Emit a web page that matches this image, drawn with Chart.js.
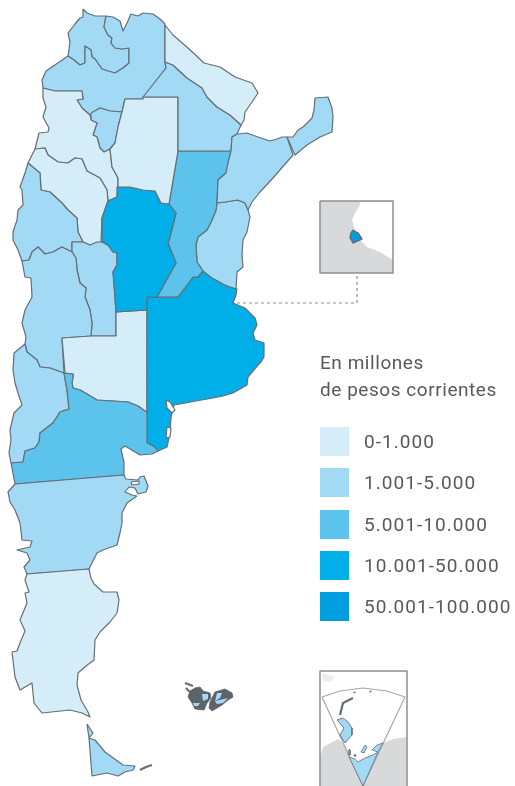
<!DOCTYPE html>
<html>
<head>
<meta charset="utf-8">
<script src="https://cdn.jsdelivr.net/npm/chart.js@4"></script>
<style>
    body { margin: 0; background: #fff; }
    #wrap { position: relative; width: 515px; height: 786px; overflow: hidden; font-family: Roboto, sans-serif; color: #58595b; }
    #wrap canvas { position: absolute; left: 0; top: 0; }
    .legend-title { position: absolute; left: 320px; top: 349px; font-size: 19px; line-height: 27px; letter-spacing: .55px; }
    .legend-row { position: absolute; left: 320px; width: 195px; height: 29px; font-size: 19px; line-height: 29px; letter-spacing: 1.05px; white-space: nowrap; }
    .legend-row i { position: absolute; left: 0; top: 0; width: 29px; height: 29px; }
    .legend-row span { position: absolute; left: 44px; top: 0; }
</style>
</head>
<body>
<div id="wrap">
    <canvas id="map" width="515" height="786"></canvas>
    <div class="legend-title">En millones<br>de pesos corrientes</div>
    <div id="legend"></div>
</div>
<script>
// classes
const classLabels = ['0-1.000', '1.001-5.000', '5.001-10.000', '10.001-50.000', '50.001-100.000'];
const classColors = ['#d5edf9', '#a2d9f5', '#5cc3ed', '#00aee8', '#009edf'];
const legendTops = [427, 468, 510, 551, 592];

// outlines, picture units
const jujuy = [[83,9],[87,13],[95,16],[106,16],[104,27],[108,35],[112,38],[111,43],[115,48],[122,49],[129,48],[129,63],[123,68],[115,73],[108,71],[102,69],[95,59],[92,57],[91,50],[85,46],[85,63],[80,65],[74,60],[68,56],[70,42],[68,33],[75,24],[80,18],[83,17]];
const salta = [[106,16],[113,17],[120,21],[123,31],[127,23],[131,14],[138,16],[143,13],[153,14],[160,19],[165,24],[165,62],[166,68],[143,99],[125,99],[122,112],[110,111],[100,108],[90,115],[82,108],[77,100],[83,99],[82,91],[55,91],[43,88],[42,80],[46,71],[68,56],[74,60],[80,65],[85,63],[85,46],[91,50],[92,57],[95,59],[102,69],[108,71],[115,73],[123,68],[129,63],[129,48],[122,49],[115,48],[111,43],[112,38],[108,35],[104,27]];
const tucuman = [[91,113],[100,108],[110,111],[122,112],[118,127],[115,143],[110,149],[104,152],[100,148],[97,137],[93,135],[97,123],[91,120]];
const catamarca = [[43,88],[55,91],[82,91],[83,99],[77,100],[82,108],[90,115],[91,120],[97,123],[93,135],[97,137],[100,148],[104,152],[110,149],[112,167],[118,178],[118,187],[117,197],[108,201],[107,190],[100,178],[87,171],[82,159],[75,158],[68,163],[58,162],[48,155],[45,148],[35,149],[39,133],[48,132],[49,128],[43,117],[46,107],[43,98]];
const laRioja = [[35,149],[45,148],[48,155],[58,162],[68,163],[75,158],[82,159],[87,171],[100,178],[107,190],[108,201],[102,218],[101,242],[90,245],[83,242],[78,232],[77,218],[68,210],[62,203],[50,192],[41,190],[40,173],[28,163]];
const sanJuan = [[28,163],[40,173],[41,190],[50,192],[62,203],[68,210],[77,218],[78,232],[83,242],[72,242],[72,252],[62,247],[53,252],[45,254],[38,247],[32,252],[29,260],[22,261],[18,250],[13,240],[13,232],[17,220],[18,210],[23,205],[22,190],[20,187],[25,173]];
const sanLuis = [[72,242],[83,242],[90,245],[97,242],[102,242],[108,245],[113,252],[117,253],[117,265],[113,272],[115,297],[116,312],[116,336],[91,336],[92,323],[90,310],[85,297],[86,288],[80,283],[77,270],[76,258],[72,252]];
const mendoza = [[22,261],[29,260],[32,252],[38,247],[45,254],[53,252],[62,247],[72,252],[76,258],[77,270],[80,283],[86,288],[85,297],[90,310],[92,323],[91,336],[62,338],[64,373],[50,368],[40,367],[37,360],[27,352],[25,344],[26,337],[22,323],[25,310],[32,297],[31,278],[25,277]];
const laPampa = [[62,338],[91,336],[116,336],[116,312],[147,310],[147,413],[138,406],[128,402],[97,400],[87,394],[80,390],[73,388],[72,383],[73,377],[73,374],[65,373]];
const neuquen = [[25,344],[27,352],[37,360],[40,367],[50,368],[64,373],[67,390],[69,409],[60,412],[53,423],[40,433],[39,442],[35,448],[25,451],[23,462],[11,463],[9,453],[11,440],[10,430],[14,413],[22,405],[18,393],[15,383],[13,370],[14,353]];
const rioNegro = [[64,373],[73,374],[73,377],[72,383],[73,388],[80,390],[87,394],[97,400],[128,402],[138,406],[148,413],[148,443],[155,447],[158,451],[152,454],[140,455],[130,449],[125,446],[121,449],[124,462],[124,475],[15,484],[11,463],[23,462],[25,451],[35,448],[39,442],[40,433],[53,423],[60,412],[69,409],[67,390]];
const buenosAires = [[147,297],[178,297],[193,277],[198,277],[203,271],[212,278],[225,285],[237,289],[236,295],[233,303],[245,308],[255,318],[257,325],[253,333],[255,340],[264,343],[264,357],[261,362],[258,365],[253,371],[248,377],[247,385],[240,389],[233,393],[223,396],[213,398],[196,401],[180,404],[174,405],[171,417],[170,433],[167,447],[158,451],[155,447],[148,443]];
const entreRios = [[217,203],[225,202],[238,200],[245,203],[248,210],[250,217],[247,232],[243,240],[242,255],[243,267],[237,272],[236,289],[225,285],[212,278],[203,271],[197,262],[196,245],[198,237],[207,230],[212,220],[216,210]];
const santaFe = [[178,151],[231,151],[228,163],[226,173],[218,180],[217,203],[216,210],[212,220],[207,230],[198,237],[196,245],[197,262],[203,271],[198,277],[193,277],[178,297],[157,297],[176,263],[168,243],[170,237],[176,213],[169,204]];
const cordoba = [[117,187],[130,187],[143,190],[155,191],[161,203],[169,204],[176,213],[170,237],[168,243],[176,263],[157,297],[147,297],[147,310],[116,312],[115,297],[113,272],[117,265],[117,253],[113,252],[108,245],[102,242],[102,218],[108,201],[117,197]];
const santiago = [[125,99],[143,99],[143,97],[178,97],[178,151],[169,204],[161,203],[155,191],[143,190],[130,187],[118,187],[118,178],[112,167],[110,149],[115,143],[118,127],[122,112]];
const chaco = [[165,62],[173,65],[187,78],[202,88],[207,97],[215,105],[217,107],[230,115],[241,125],[237,134],[232,137],[231,151],[178,151],[178,97],[143,97],[166,68]];
const formosa = [[165,25],[173,35],[188,48],[204,63],[220,67],[235,77],[252,83],[258,93],[252,102],[245,112],[244,120],[241,125],[230,115],[217,107],[215,105],[207,97],[202,88],[187,78],[173,65],[165,62]];
const corrientes = [[232,137],[237,134],[247,133],[258,137],[270,141],[277,139],[282,137],[287,137],[293,155],[273,178],[260,192],[252,202],[248,210],[245,203],[238,200],[225,202],[217,203],[218,180],[226,173],[228,163],[231,151]];
const misiones = [[287,137],[293,137],[298,130],[303,127],[312,118],[314,110],[315,98],[328,97],[332,108],[333,117],[332,132],[320,137],[307,145],[295,155]];
const chubut = [[15,484],[124,475],[126,479],[138,480],[140,477],[144,476],[148,486],[146,492],[138,494],[135,488],[129,487],[125,492],[132,495],[137,496],[127,503],[122,513],[122,523],[120,533],[117,545],[103,550],[97,553],[89,569],[27,574],[24,567],[30,560],[27,553],[17,550],[30,547],[32,541],[22,540],[20,523],[15,510],[10,502],[8,492]];
const santaCruz = [[27,574],[89,569],[91,578],[94,584],[103,592],[117,592],[119,600],[117,613],[110,622],[100,632],[95,640],[94,660],[86,666],[78,673],[77,685],[81,700],[88,712],[90,717],[82,713],[70,710],[42,713],[34,703],[32,683],[20,690],[15,677],[12,652],[17,651],[20,643],[25,631],[20,620],[27,603],[25,593],[29,592],[25,580]];
const tierraDelFuego = [[87,724],[93,733],[89,738],[95,740],[105,752],[123,765],[135,766],[133,770],[125,772],[118,776],[107,773],[92,776],[89,738]];

// Malvinas: dark jagged coast with blue patches on top
const malvinasOeste = [[188,697],[190,691],[195,688],[200,687],[203,691],[210,693],[211,698],[207,703],[204,710],[195,709],[192,703]];
const malvinasEste = [[210,702],[215,692],[225,689],[232,693],[233,697],[228,700],[222,705],[212,711],[209,708]];
const malvinasBlue = [
    [[202,694],[208,694],[208,699],[203,701]],
    [[193,703],[200,703],[198,706],[194,706]],
    [[217,693],[222,693],[220,698],[215,701]],
    [[215,701],[228,698],[223,703],[217,704]]
];

const bahiaHoles = [
    [[131,482],[139,481],[139,484],[132,485]],
    [[166,400],[170,402],[175,410],[172,413],[167,408]],
    [[167,427],[171,428],[170,437],[166,438]]
];
const darkBits = [
    [[185,683],[193,686]], [[190,692],[186,688]], [[140,770],[146,767],[152,765]],
    [[340,715],[343,703],[353,698]], [[354,692],[355,693]], [[370,691],[371,692]], [[354,755],[356,756]]
];

// inset boxes
const cabaBox = [[320,201],[393,201],[393,273],[320,273]];
const cabaSea = [[360,202],[393,202],[393,260],[380,252],[367,247],[360,240],[355,230],[352,220],[355,213],[360,205]];
const caba = [[353,230],[358,233],[362,239],[355,242],[353,243],[350,238],[351,233]];
const connector = [[237,303],[357,303],[357,273]];
const antBox = [[320,786],[320,671],[407,671],[407,786]];
const antLandLeft = [[320,786],[320,757],[323,747],[338,739],[343,743],[363,786]];
const antLandRight = [[363,786],[383,743],[393,739],[407,737],[407,786]];
const antTip = [[322,673],[335,677],[330,682],[323,681]];
const antSector = [[322,697],[340,691],[363,688],[387,691],[405,697],[363,786]];
const antWedge = [[349,757],[355,759],[358,762],[365,758],[373,755],[378,752],[363,786]];
const antEast = [[372,750],[377,745],[383,743],[378,752]];
const antPeninsula = [[337,720],[343,718],[348,722],[352,728],[352,735],[345,743],[340,735],[344,728]];
const antIsle = [[365,745],[367,747],[364,753],[361,752]];
const antIsle2 = [[349,749],[350,750],[350,755],[348,755]];

const lineColor = '#646e75';

// value class of every province, index into classLabels
const provinces = [
    [jujuy, 1], [salta, 1], [tucuman, 1], [catamarca, 0], [laRioja, 0], [sanJuan, 1], [sanLuis, 1],
    [mendoza, 1], [laPampa, 0], [neuquen, 1], [rioNegro, 2], [buenosAires, 3], [entreRios, 1],
    [santaFe, 2], [cordoba, 3], [santiago, 0], [chaco, 1], [formosa, 0], [corrientes, 1],
    [misiones, 1], [chubut, 1], [santaCruz, 0], [tierraDelFuego, 1]
];

function poly(points, fillColor, edge, width, close) {
    const data = points.map(function (p) { return { x: p[0], y: p[1] }; });
    if (close !== false) data.push({ x: points[0][0], y: points[0][1] });
    return {
        data: data,
        showLine: true,
        tension: 0,
        pointRadius: 0,
        borderColor: edge || 'transparent',
        borderWidth: width === undefined ? 1.2 : width,
        borderJoinStyle: 'round',
        backgroundColor: fillColor || 'transparent',
        fill: fillColor ? 'shape' : false
    };
}

// painting order, bottom first
let layers = [];
layers.push(poly(cabaBox, '#d8d9db', null, 0));
layers.push(poly(cabaSea, '#ffffff', null, 0));
layers.push(poly(cabaBox, null, '#8c8e90', 1.5));
layers.push(poly(caba, classColors[4], lineColor, 1.4));
layers.push(Object.assign(poly(connector, null, '#8c8e90', 1.2, false), { borderDash: [3, 3] }));

layers.push(poly(antLandLeft, '#d8d9db', null, 0));
layers.push(poly(antLandRight, '#d8d9db', null, 0));
layers.push(poly(antTip, '#ececec', null, 0));
layers.push(poly(antSector, null, '#a5a7a9', 1.2));
layers.push(poly(antWedge, classColors[1], lineColor, 0.8));
layers.push(poly(antEast, classColors[1], lineColor, 0.8));
layers.push(poly(antPeninsula, classColors[1], lineColor, 0.9));
layers.push(poly(antIsle, classColors[1], lineColor, 0.8));
layers.push(poly(antIsle2, classColors[1], lineColor, 0.8));
layers.push(poly(antBox, null, '#8c8e90', 1.5, false));

provinces.forEach(function (p) {
    layers.push(poly(p[0], classColors[p[1]], lineColor, 1.2));
});
layers.push(poly(malvinasOeste, '#5c6369', '#5c6369', 0.8));
layers.push(poly(malvinasEste, '#5c6369', '#5c6369', 0.8));
malvinasBlue.forEach(function (m) {
    layers.push(poly(m, classColors[1], null, 0));
});
bahiaHoles.forEach(function (h) {
    layers.push(poly(h, '#ffffff', lineColor, 1.2));
});
darkBits.forEach(function (b) {
    layers.push(poly(b, null, lineColor, 2.2, false));
});

new Chart(document.getElementById('map').getContext('2d'), {
    type: 'scatter',
    data: { datasets: layers.reverse() }, // first dataset is painted last
    options: {
        responsive: false,
        animation: false,
        layout: { padding: 0 },
        clip: false,
        scales: {
            x: { type: 'linear', display: false, min: 0, max: 515 },
            y: { type: 'linear', display: false, min: 0, max: 786, reverse: true }
        },
        plugins: { legend: { display: false }, tooltip: { enabled: false } }
    }
});

// Start legend
const legend = document.getElementById('legend');
classLabels.forEach(function (label, i) {
    const row = document.createElement('div');
    row.className = 'legend-row';
    row.style.top = legendTops[i] + 'px';
    row.innerHTML = '<i style="background:' + classColors[i] + '"></i><span>' + label + '</span>';
    legend.appendChild(row);
});
</script>
</body>
</html>
